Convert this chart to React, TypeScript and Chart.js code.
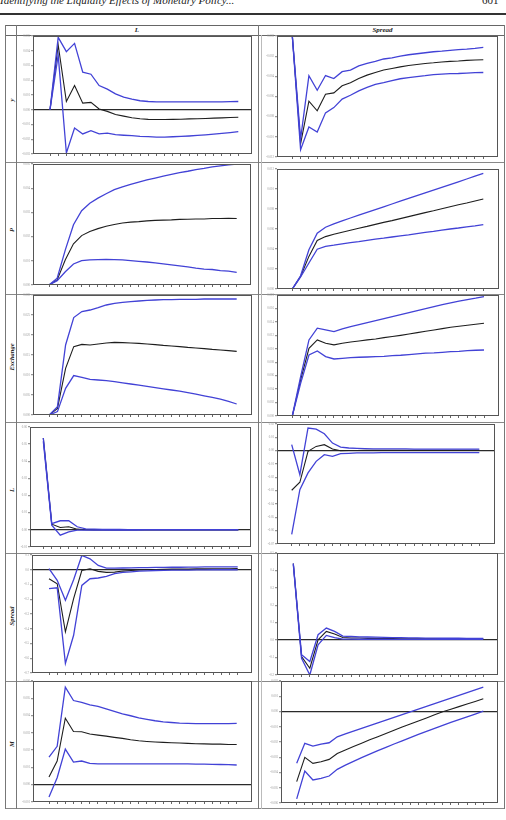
import React, { useEffect, useRef } from "react";
import { Chart, registerables } from "chart.js";
Chart.register(...registerables);

// ---------- data ----------
const periods = [1, 2, 3, 4, 5, 6, 7, 8, 9, 10, 11, 12, 13, 14, 15, 16, 17, 18, 19, 20, 21, 22, 23, 24];
const rowNames = ["y", "P", "Exchange", "L", "Spread", "M"];
const colNames = ["L", "Spread"];

// y <- L
const yL_mid = [0, 4.39, 0.56, 1.64, 0.45, 0.5, 0.05, -0.11, -0.32, -0.43, -0.54, -0.61, -0.65, -0.66, -0.66, -0.65, -0.64, -0.62, -0.61, -0.59, -0.57, -0.55, -0.53, -0.51];
const yL_up = [0, 4.91, 3.94, 4.5, 2.55, 2.41, 1.64, 1.4, 1.08, 0.86, 0.72, 0.61, 0.56, 0.54, 0.53, 0.53, 0.53, 0.53, 0.53, 0.53, 0.54, 0.54, 0.55, 0.56];
const yL_lo = [0, 3.7, -2.93, -1.24, -1.64, -1.42, -1.64, -1.58, -1.69, -1.73, -1.76, -1.8, -1.82, -1.85, -1.85, -1.83, -1.81, -1.78, -1.74, -1.7, -1.65, -1.6, -1.55, -1.49];
const yL_ticks = ["-0.003", "-0.002", "-0.001", "0.000", "0.001", "0.002", "0.003", "0.004", "0.005"];
// y <- Spread
const yS_mid = [0, -5.34, -3.23, -3.71, -2.89, -2.82, -2.47, -2.32, -2.11, -1.94, -1.81, -1.69, -1.61, -1.53, -1.46, -1.41, -1.36, -1.33, -1.29, -1.26, -1.24, -1.21, -1.19, -1.18];
const yS_up = [0, -5.1, -1.97, -2.69, -1.96, -2.11, -1.77, -1.69, -1.48, -1.36, -1.26, -1.14, -1.08, -1.0, -0.93, -0.88, -0.83, -0.78, -0.75, -0.71, -0.68, -0.65, -0.61, -0.56];
const yS_lo = [0, -5.64, -4.51, -4.76, -3.81, -3.55, -3.13, -2.94, -2.72, -2.55, -2.4, -2.31, -2.21, -2.12, -2.06, -2.01, -1.97, -1.92, -1.89, -1.87, -1.86, -1.84, -1.82, -1.81];
const yS_ticks = ["-0.012", "-0.010", "-0.008", "-0.006", "-0.004", "-0.002", "0.000"];
// P <- L
const pL_mid = [0, 0.21, 1.04, 1.7, 2.04, 2.21, 2.33, 2.43, 2.5, 2.56, 2.6, 2.62, 2.65, 2.67, 2.68, 2.69, 2.71, 2.72, 2.73, 2.73, 2.75, 2.75, 2.76, 2.75];
const pL_up = [0, 0.28, 1.45, 2.49, 3.07, 3.38, 3.59, 3.77, 3.94, 4.05, 4.16, 4.25, 4.34, 4.42, 4.5, 4.57, 4.64, 4.7, 4.77, 4.82, 4.88, 4.92, 4.96, 5.0];
const pL_lo = [0, 0.18, 0.55, 0.87, 1.01, 1.04, 1.05, 1.06, 1.05, 1.04, 1.01, 0.98, 0.95, 0.91, 0.87, 0.83, 0.79, 0.75, 0.7, 0.66, 0.64, 0.59, 0.57, 0.52];
const pL_ticks = ["0.000", "0.001", "0.002", "0.003", "0.004", "0.005"];
// P <- Spread
const pS_mid = [0, 0.63, 1.63, 2.43, 2.62, 2.74, 2.84, 2.94, 3.04, 3.13, 3.23, 3.33, 3.42, 3.52, 3.62, 3.72, 3.82, 3.91, 4.01, 4.11, 4.21, 4.3, 4.4, 4.5];
const pS_up = [0, 0.66, 1.96, 2.79, 3.09, 3.26, 3.41, 3.55, 3.69, 3.83, 3.97, 4.11, 4.25, 4.39, 4.53, 4.67, 4.81, 4.94, 5.08, 5.22, 5.36, 5.5, 5.64, 5.78];
const pS_lo = [0, 0.6, 1.3, 1.99, 2.13, 2.19, 2.26, 2.32, 2.37, 2.43, 2.49, 2.54, 2.6, 2.66, 2.71, 2.77, 2.83, 2.88, 2.94, 3.0, 3.05, 3.11, 3.16, 3.22];
const pS_ticks = ["0.000", "0.002", "0.004", "0.006", "0.008", "0.010", "0.012"];
// Exchange <- L
const eL_mid = [0, 0.33, 2.33, 3.42, 3.53, 3.5, 3.55, 3.6, 3.63, 3.62, 3.6, 3.58, 3.55, 3.52, 3.48, 3.45, 3.42, 3.38, 3.35, 3.32, 3.28, 3.25, 3.22, 3.18];
const eL_up = [0, 0.42, 3.5, 4.87, 5.17, 5.25, 5.37, 5.5, 5.58, 5.63, 5.67, 5.7, 5.73, 5.75, 5.77, 5.77, 5.78, 5.78, 5.78, 5.8, 5.8, 5.8, 5.8, 5.8];
const eL_lo = [0, 0.17, 1.33, 1.97, 1.88, 1.78, 1.75, 1.72, 1.67, 1.61, 1.55, 1.49, 1.43, 1.37, 1.31, 1.25, 1.19, 1.12, 1.04, 0.96, 0.88, 0.79, 0.68, 0.55];
const eL_ticks = ["0.000", "0.005", "0.010", "0.015", "0.020", "0.025", "0.030"];
// Exchange <- Spread
const eS_mid = [0, 2.68, 5.04, 5.66, 5.41, 5.29, 5.41, 5.51, 5.58, 5.66, 5.73, 5.83, 5.91, 6.0, 6.1, 6.2, 6.3, 6.4, 6.5, 6.6, 6.67, 6.75, 6.82, 6.9];
const eS_up = [0, 2.93, 5.66, 6.53, 6.4, 6.28, 6.48, 6.65, 6.8, 6.95, 7.1, 7.25, 7.39, 7.54, 7.69, 7.84, 7.99, 8.14, 8.29, 8.41, 8.54, 8.66, 8.76, 8.88];
const eS_lo = [0, 2.43, 4.54, 4.84, 4.42, 4.24, 4.29, 4.34, 4.37, 4.39, 4.42, 4.44, 4.49, 4.52, 4.57, 4.62, 4.67, 4.69, 4.74, 4.79, 4.81, 4.86, 4.89, 4.91];
const eS_ticks = ["0.000", "0.002", "0.004", "0.006", "0.008", "0.010", "0.012", "0.014", "0.016", "0.018"];
// L <- L
const lL_mid = [5.36, 0.33, 0.14, 0.18, 0.04, 0.01, 0.0, 0.0, 0.0, 0.0, 0.0, 0.0, 0.0, 0.0, 0.0, 0.0, 0.0, 0.0, 0.0, 0.0, 0.0, 0.0, 0.0, 0.0];
const lL_up = [5.36, 0.37, 0.53, 0.53, 0.18, 0.06, 0.04, 0.03, 0.02, 0.02, 0.01, 0.01, 0.01, 0.01, 0.01, 0.01, 0.01, 0.01, 0.01, 0.01, 0.01, 0.01, 0.01, 0.01];
const lL_lo = [5.17, 0.27, -0.31, -0.12, -0.02, -0.02, -0.01, -0.01, -0.01, -0.01, -0.01, -0.01, 0.0, 0.0, 0.0, 0.0, 0.0, 0.0, 0.0, 0.0, 0.0, 0.0, 0.0, 0.0];
const lL_ticks = ["-0.01", "0.00", "0.01", "0.02", "0.03", "0.04", "0.05", "0.06"];
// L <- Spread
const lS_mid = [-2.97, -2.37, -0.05, 0.32, 0.45, 0.12, 0.0, 0.01, 0.01, 0.02, 0.02, 0.02, 0.02, 0.02, 0.02, 0.02, 0.02, 0.02, 0.02, 0.02, 0.02, 0.02, 0.02, 0.02];
const lS_up = [0.45, -1.8, 1.7, 1.62, 1.27, 0.57, 0.27, 0.2, 0.17, 0.15, 0.14, 0.14, 0.13, 0.13, 0.13, 0.12, 0.12, 0.12, 0.12, 0.12, 0.12, 0.12, 0.12, 0.12];
const lS_lo = [-6.28, -2.92, -1.67, -0.8, -0.3, -0.42, -0.22, -0.2, -0.17, -0.16, -0.16, -0.15, -0.15, -0.15, -0.15, -0.15, -0.15, -0.15, -0.15, -0.15, -0.15, -0.15, -0.15, -0.15];
const lS_ticks = ["-0.07", "-0.06", "-0.05", "-0.04", "-0.03", "-0.02", "-0.01", "0.00", "0.01", "0.02"];
// Spread <- L
const sL_mid = [-0.61, -0.95, -4.21, -1.96, -0.05, 0.07, -0.11, -0.18, -0.16, -0.09, -0.05, -0.02, 0.0, 0.02, 0.03, 0.04, 0.05, 0.05, 0.06, 0.06, 0.07, 0.07, 0.07, 0.08];
const sL_up = [0.07, -0.72, -2.07, -0.68, 0.97, 0.74, 0.29, 0.11, 0.11, 0.12, 0.13, 0.14, 0.15, 0.16, 0.16, 0.17, 0.17, 0.18, 0.18, 0.19, 0.19, 0.2, 0.2, 0.2];
const sL_lo = [-1.28, -1.22, -6.35, -4.44, -1.06, -0.61, -0.56, -0.45, -0.27, -0.18, -0.14, -0.09, -0.07, -0.05, -0.04, -0.03, -0.02, -0.02, -0.01, -0.01, 0.0, 0.0, 0.0, 0.0];
const sL_ticks = ["-0.7", "-0.6", "-0.5", "-0.4", "-0.3", "-0.2", "-0.1", "0.0", "0.1"];
// Spread <- Spread
const sS_mid = [4.4, -0.94, -1.61, 0.02, 0.5, 0.35, 0.15, 0.12, 0.12, 0.1, 0.1, 0.09, 0.09, 0.08, 0.08, 0.08, 0.07, 0.07, 0.07, 0.07, 0.06, 0.06, 0.06, 0.06];
const sS_up = [4.4, -0.84, -1.23, 0.31, 0.69, 0.5, 0.23, 0.21, 0.19, 0.18, 0.17, 0.16, 0.15, 0.14, 0.13, 0.13, 0.12, 0.12, 0.11, 0.11, 0.11, 0.1, 0.1, 0.1];
const sS_lo = [4.34, -1.04, -2.0, -0.27, 0.27, 0.15, 0.06, 0.06, 0.05, 0.05, 0.05, 0.05, 0.04, 0.04, 0.04, 0.04, 0.04, 0.04, 0.04, 0.04, 0.04, 0.04, 0.04, 0.04];
const sS_ticks = ["-0.2", "-0.1", "0.0", "0.1", "0.2", "0.3", "0.4", "0.5"];
// M <- L
const mL_mid = [0.44, 1.37, 3.85, 3.08, 3.06, 2.93, 2.87, 2.81, 2.74, 2.68, 2.6, 2.54, 2.5, 2.47, 2.45, 2.43, 2.41, 2.39, 2.37, 2.36, 2.35, 2.35, 2.33, 2.33];
const mL_up = [1.6, 2.22, 5.65, 4.87, 4.76, 4.62, 4.53, 4.39, 4.24, 4.1, 3.99, 3.87, 3.78, 3.7, 3.64, 3.6, 3.56, 3.55, 3.53, 3.53, 3.53, 3.53, 3.53, 3.55];
const mL_lo = [-0.71, 0.4, 2.06, 1.31, 1.37, 1.23, 1.21, 1.21, 1.21, 1.21, 1.21, 1.21, 1.21, 1.21, 1.21, 1.21, 1.2, 1.2, 1.19, 1.19, 1.18, 1.17, 1.16, 1.14];
const mL_ticks = ["-0.001", "0.000", "0.001", "0.002", "0.003", "0.004", "0.005", "0.006"];
// M <- Spread
const mS_mid = [-4.6, -3.01, -3.4, -3.29, -3.14, -2.75, -2.52, -2.3, -2.08, -1.86, -1.65, -1.44, -1.23, -1.02, -0.82, -0.62, -0.42, -0.22, -0.02, 0.15, 0.32, 0.49, 0.66, 0.83];
const mS_up = [-3.4, -2.09, -2.27, -2.14, -2.05, -1.66, -1.47, -1.28, -1.1, -0.92, -0.74, -0.56, -0.38, -0.2, -0.02, 0.16, 0.34, 0.52, 0.7, 0.88, 1.06, 1.24, 1.42, 1.6];
const mS_lo = [-5.73, -3.9, -4.49, -4.38, -4.23, -3.79, -3.52, -3.27, -3.03, -2.8, -2.57, -2.35, -2.13, -1.92, -1.71, -1.5, -1.3, -1.1, -0.91, -0.72, -0.53, -0.35, -0.17, 0.02];
const mS_ticks = ["-0.006", "-0.005", "-0.004", "-0.003", "-0.002", "-0.001", "0.000", "0.001", "0.002"];

// ---------- layout ----------
type Geom = { l: number; r: number; t: number; b: number; first: number; last: number };
type Panel = { mid: number[]; up: number[]; lo: number[]; yMin: number; yMax: number; labels: string[]; zero: boolean; g: Geom };

const panels: Panel[] = [
  { mid: yL_mid, up: yL_up, lo: yL_lo, yMin: -3, yMax: 5, labels: yL_ticks, zero: true, g: { l: 33, r: 252, t: 36, b: 154, first: 50, last: 238.3 } },
  { mid: yS_mid, up: yS_up, lo: yS_lo, yMin: -6, yMax: 0, labels: yS_ticks, zero: false, g: { l: 277, r: 498, t: 36, b: 157, first: 292.3, last: 483.3 } },
  { mid: pL_mid, up: pL_up, lo: pL_lo, yMin: 0, yMax: 5, labels: pL_ticks, zero: false, g: { l: 33, r: 251, t: 164, b: 285, first: 49, last: 236.7 } },
  { mid: pS_mid, up: pS_up, lo: pS_lo, yMin: 0, yMax: 6, labels: pS_ticks, zero: false, g: { l: 277, r: 499, t: 169, b: 289, first: 292.3, last: 483.3 } },
  { mid: eL_mid, up: eL_up, lo: eL_lo, yMin: 0, yMax: 6, labels: eL_ticks, zero: false, g: { l: 33, r: 252, t: 295, b: 415, first: 49.3, last: 236.7 } },
  { mid: eS_mid, up: eS_up, lo: eS_lo, yMin: 0, yMax: 9, labels: eS_ticks, zero: false, g: { l: 277, r: 499, t: 295, b: 416, first: 292.3, last: 484 } },
  { mid: lL_mid, up: lL_up, lo: lL_lo, yMin: -1, yMax: 6, labels: lL_ticks, zero: true, g: { l: 30, r: 251, t: 427, b: 547, first: 43.3, last: 238.3 } },
  { mid: lS_mid, up: lS_up, lo: lS_lo, yMin: -7, yMax: 2, labels: lS_ticks, zero: true, g: { l: 277, r: 495, t: 424, b: 544, first: 291.7, last: 479.3 } },
  { mid: sL_mid, up: sL_up, lo: sL_lo, yMin: -7, yMax: 1, labels: sL_ticks, zero: true, g: { l: 32, r: 252, t: 555, b: 673, first: 49, last: 237.7 } },
  { mid: sS_mid, up: sS_up, lo: sS_lo, yMin: -2, yMax: 5, labels: sS_ticks, zero: true, g: { l: 277, r: 498, t: 553, b: 675, first: 293.3, last: 483.3 } },
  { mid: mL_mid, up: mL_up, lo: mL_lo, yMin: -1, yMax: 6, labels: mL_ticks, zero: true, g: { l: 33, r: 252, t: 681, b: 802, first: 49, last: 236.7 } },
  { mid: mS_mid, up: mS_up, lo: mS_lo, yMin: -6, yMax: 2, labels: mS_ticks, zero: true, g: { l: 281, r: 498, t: 681, b: 803, first: 296.7, last: 483.3 } },
];

const BLUE = "#4242d6";
const BLACK = "#1e1e1e";
const Y_W = 14, PAD_T = 3, PAD_R = 3, X_H = 5;

const framePlugin = {
  id: "frame",
  afterDatasetsDraw(chart: any) {
    const { ctx, chartArea: a } = chart;
    ctx.save();
    ctx.strokeStyle = "#555";
    ctx.lineWidth = 1;
    ctx.strokeRect(Math.round(a.left) + 0.5, Math.round(a.top) + 0.5, Math.round(a.right - a.left) - 1, Math.round(a.bottom - a.top) - 1);
    ctx.restore();
  },
};

function PanelChart({ p }: { p: Panel }) {
  const ref = useRef<HTMLCanvasElement>(null);
  const w = Math.round(p.g.r - p.g.l) + Y_W + PAD_R;
  const h = Math.round(p.g.b - p.g.t) + PAD_T + X_H;
  useEffect(() => {
    const s = (p.g.last - p.g.first) / (periods.length - 1);
    const xmin = periods[0] - (p.g.first - p.g.l) / s;
    const xmax = periods[periods.length - 1] + (p.g.r - p.g.last) / s;
    const mk = (arr: number[], color: string, width: number) => ({
      data: periods.map((x, i) => ({ x, y: arr[i] })),
      borderColor: color,
      borderWidth: width,
      pointRadius: 0,
      tension: 0,
      fill: false,
    });
    const chart = new Chart(ref.current as HTMLCanvasElement, {
      type: "line",
      data: { datasets: [mk(p.up, BLUE, 1.3), mk(p.lo, BLUE, 1.3), mk(p.mid, BLACK, 1.1)] as any },
      options: {
        animation: false,
        responsive: false,
        devicePixelRatio: 1,
        events: [],
        layout: { padding: { left: 0, top: PAD_T, right: PAD_R, bottom: 0 } },
        plugins: { legend: { display: false }, tooltip: { enabled: false } },
        scales: {
          x: {
            type: "linear",
            min: xmin,
            max: xmax,
            afterBuildTicks: (a: any) => {
              a.ticks = periods.map((v) => ({ value: v }));
            },
            afterFit: (a: any) => {
              a.height = X_H;
            },
            ticks: { display: false },
            grid: { drawOnChartArea: false, tickLength: 2, color: "#666" },
            border: { display: false },
          },
          y: {
            type: "linear",
            min: p.yMin,
            max: p.yMax,
            afterBuildTicks: (a: any) => {
              const t: any[] = [];
              for (let v = p.yMin; v <= p.yMax; v++) t.push({ value: v });
              a.ticks = t;
            },
            afterFit: (a: any) => {
              a.width = Y_W;
            },
            ticks: {
              font: { size: 3, family: "Liberation Serif" },
              color: "#999",
              padding: 1,
              autoSkip: false,
              callback: (_v: any, i: number) => p.labels[i],
            },
            grid: {
              color: (c: any) => (p.zero && c.tick && c.tick.value === 0 ? "#2a2a2a" : "rgba(0,0,0,0)"),
              tickColor: "#999",
              tickLength: 2,
              lineWidth: 1.3,
            },
            border: { display: false },
          },
        },
      } as any,
      plugins: [framePlugin],
    });
    return () => chart.destroy();
  }, []);
  return (
    <canvas
      ref={ref}
      width={w}
      height={h}
      style={{ position: "absolute", left: p.g.l - Y_W, top: p.g.t - PAD_T, width: w, height: h }}
    />
  );
}

const HL = ({ y, x1, x2, c = "#777", t = 1 }: any) => (
  <div style={{ position: "absolute", left: x1, top: y, width: x2 - x1, height: t, background: c }} />
);
const VL = ({ x, y1, y2, c = "#777", t = 1 }: any) => (
  <div style={{ position: "absolute", left: x, top: y1, width: t, height: y2 - y1, background: c }} />
);

const rowCenters = [100, 230, 357, 490, 616, 744];
const rowLines = [162, 294, 422, 553, 681, 808];

export default function App() {
  return (
    <div style={{ position: "absolute", left: 0, top: 0, width: 506, height: 820, background: "#fff", overflow: "hidden", fontFamily: "'Liberation Serif', serif" }}>
      <div style={{ position: "absolute", left: 0, top: -5, fontSize: 11, fontStyle: "italic", lineHeight: "11px", whiteSpace: "nowrap", color: "#222" }}>
        Identifying the Liquidity Effects of Monetary Policy...
      </div>
      <div style={{ position: "absolute", left: 482, top: -5, fontSize: 11, lineHeight: "11px", color: "#222" }}>601</div>
      <HL y={13} x1={0} x2={506} c="#333" t={1.5} />

      {/* table */}
      <HL y={25} x1={5} x2={505} c="#666" />
      <HL y={35} x1={5} x2={505} c="#666" />
      {rowLines.map((y, i) => (
        <HL key={i} y={y} x1={5} x2={505} c="#888" t={1} />
      ))}
      <VL x={5} y1={25} y2={809} c="#777" />
      <VL x={16} y1={25} y2={809} c="#777" />
      <VL x={258} y1={25} y2={809} c="#777" />
      <VL x={261} y1={35} y2={809} c="#bbb" />
      <VL x={504} y1={25} y2={809} c="#777" />

      <div style={{ position: "absolute", left: 16, width: 242, top: 25, height: 10, textAlign: "center", fontSize: 7, lineHeight: "10px", fontStyle: "italic", fontWeight: "bold", color: "#222" }}>
        {colNames[0]}
      </div>
      <div style={{ position: "absolute", left: 261, width: 243, top: 25, height: 10, textAlign: "center", fontSize: 7, lineHeight: "10px", fontStyle: "italic", fontWeight: "bold", color: "#222" }}>
        {colNames[1]}
      </div>

      {rowNames.map((n, i) => (
        <div
          key={n + i}
          style={{
            position: "absolute",
            left: 10.5,
            top: rowCenters[i],
            transform: "translate(-50%, -50%) rotate(-90deg)",
            fontSize: 6.5,
            fontStyle: "italic",
            fontWeight: "bold",
            whiteSpace: "nowrap",
            color: "#222",
          }}
        >
          {n}
        </div>
      ))}

      {panels.map((p, i) => (
        <PanelChart key={i} p={p} />
      ))}
    </div>
  );
}
